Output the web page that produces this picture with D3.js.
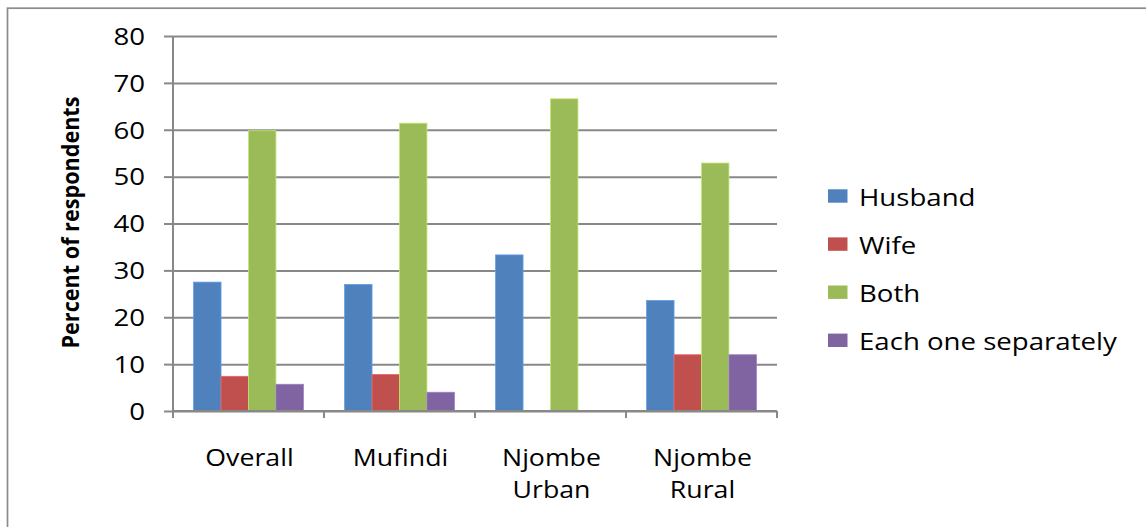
<!DOCTYPE html>
<html>
<head>
<meta charset="utf-8">
<script src="https://cdn.jsdelivr.net/npm/d3@7"></script>
<style>
  html, body { margin: 0; padding: 0; background: #fff; }
  svg { display: block; }
  text { font-family: "Open Sans", "Noto Sans", sans-serif; fill: #000; }
</style>
</head>
<body>
<svg id="chart" width="1146" height="527"></svg>
<script>
// Decision-making responses by area (percent of respondents)
const categories = [["Overall"], ["Mufindi"], ["Njombe", "Urban"], ["Njombe", "Rural"]];
const seriesNames = ["Husband", "Wife", "Both", "Each one separately"];
const husband   = [27.5, 27.0, 33.3, 23.6];
const wife      = [7.4, 7.8, 0, 12.0];
const both      = [59.8, 61.4, 66.6, 52.9];
const separate  = [5.7, 4.0, 0, 12.0];
const yTicks = [0, 10, 20, 30, 40, 50, 60, 70, 80];
const colors = ["#4F81BD", "#C0504D", "#9BBB59", "#8064A2"];

const seriesValues = [husband, wife, both, separate];
const catKeys = categories.map(c => c.join(" "));

const svg = d3.select("#chart");
const axisColor = "#888888";

// widen glyphs horizontally by factor k
function stretch(sel, k) {
  sel.each(function () {
    const w = this.getComputedTextLength();
    this.setAttribute("textLength", w * k);
    this.setAttribute("lengthAdjust", "spacingAndGlyphs");
  });
}

// outer chart frame
svg.append("rect")
  .attr("x", 7.5).attr("y", 8.2)
  .attr("width", 1200).attr("height", 600)
  .attr("fill", "none").attr("stroke", "#8c8c8c").attr("stroke-width", 1.7);

const plot = { left: 173, right: 777, top: 36, bottom: 411 };

const y = d3.scaleLinear().domain([0, 80]).range([plot.bottom, plot.top]);
const x = d3.scaleBand().domain(catKeys).range([plot.left, plot.right]).paddingInner(0).paddingOuter(0);
const xs = d3.scaleBand().domain(seriesNames).range([0, x.bandwidth()]).paddingInner(0).paddingOuter(0.75);

// horizontal gridlines
svg.append("g")
  .attr("transform", `translate(${plot.left},0)`)
  .call(d3.axisLeft(y).tickValues(yTicks).tickSize(-(plot.right - plot.left)).tickFormat(""))
  .call(g => g.select(".domain").remove())
  .call(g => g.selectAll("line").attr("stroke", axisColor).attr("stroke-width", 2));

// bars
const rows = catKeys.map((k, i) => ({ key: k, vals: seriesNames.map((s, j) => ({ s, j, v: seriesValues[j][i] })) }));
svg.append("g").selectAll("g")
  .data(rows).join("g")
  .attr("transform", d => `translate(${x(d.key)},0)`)
  .selectAll("rect")
  .data(d => d.vals.filter(e => e.v > 0)).join("rect")
  .attr("x", d => xs(d.s))
  .attr("width", xs.bandwidth())
  .attr("y", d => y(d.v))
  .attr("height", d => y(0) - y(d.v))
  .attr("fill", d => colors[d.j])
  .attr("stroke", d => d3.color(colors[d.j]).brighter(0.6))
  .attr("stroke-width", 0.8);

// value axis
const yAxis = svg.append("g")
  .attr("transform", `translate(${plot.left},0)`)
  .call(d3.axisLeft(y).tickValues(yTicks).tickSize(9).tickPadding(19).tickFormat(d3.format("d")));
yAxis.select(".domain").attr("stroke", axisColor).attr("stroke-width", 2)
  .attr("d", `M0,${plot.top}V${plot.bottom}`);
yAxis.selectAll("line").attr("stroke", axisColor).attr("stroke-width", 2);
yAxis.selectAll("text")
  .style("font-family", "'Open Sans', sans-serif").style("font-size", "23px").attr("fill", "#000")
  .attr("dy", "0.36em");
stretch(yAxis.selectAll("text"), 1.2);

// category axis: baseline and boundary ticks
const xAxis = svg.append("g");
xAxis.append("line")
  .attr("x1", plot.left).attr("x2", plot.right)
  .attr("y1", plot.bottom).attr("y2", plot.bottom)
  .attr("stroke", axisColor).attr("stroke-width", 2);
const bounds = catKeys.map(k => x(k)).concat([x(catKeys[catKeys.length - 1]) + x.bandwidth()]);
xAxis.selectAll("line.tk").data(bounds).join("line").attr("class", "tk")
  .attr("x1", d => d).attr("x2", d => d)
  .attr("y1", plot.bottom).attr("y2", plot.bottom + 7)
  .attr("stroke", axisColor).attr("stroke-width", 2);

const labelLines = [];
categories.forEach((c, i) => c.forEach((t, li) => labelLines.push({ t, li, key: catKeys[i] })));
const xl = xAxis.selectAll("text").data(labelLines).join("text")
  .attr("x", d => x(d.key) + x.bandwidth() / 2 + 1)
  .attr("y", d => 466 + d.li * 31.7)
  .attr("text-anchor", "middle")
  .style("font-size", "23px")
  .text(d => d.t);
stretch(xl, 1.16);

// axis title
const yt = svg.append("text")
  .attr("transform", "translate(79,222.5) rotate(-90)")
  .attr("text-anchor", "middle")
  .style("font-size", "23.5px").style("font-weight", "700")
  .text("Percent of respondents");
yt.attr("textLength", 252).attr("lengthAdjust", "spacingAndGlyphs");

// legend
const legend = svg.append("g").attr("transform", "translate(828,196)");
const li = legend.selectAll("g").data(seriesNames).join("g")
  .attr("transform", (d, i) => `translate(0,${i * 48.1})`);
li.append("rect").attr("x", 0).attr("y", -6.7).attr("width", 19.5).attr("height", 13.4)
  .attr("fill", (d, i) => colors[i]);
const lt = li.append("text").attr("x", 31).attr("y", 10)
  .style("font-size", "23px").text(d => d);
stretch(lt, 1.2);
</script>
</body>
</html>
